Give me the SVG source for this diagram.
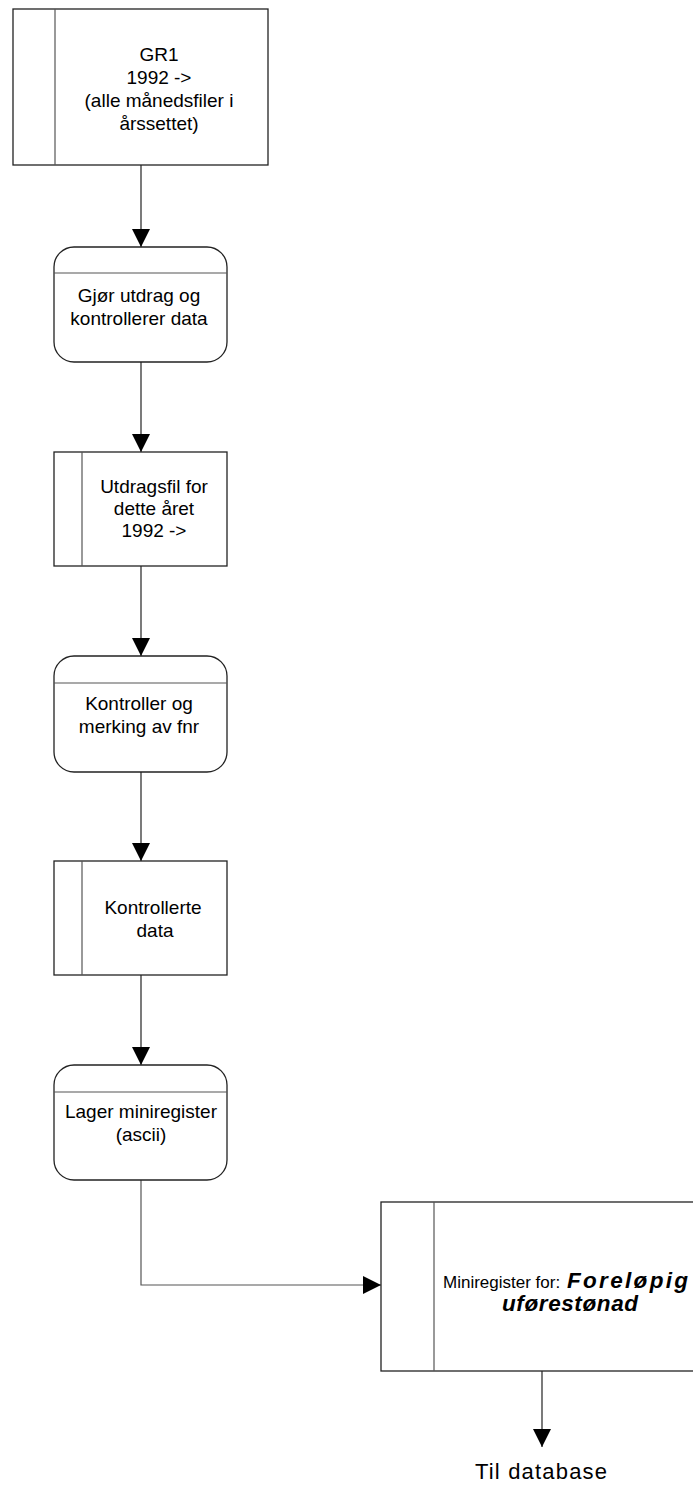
<svg xmlns="http://www.w3.org/2000/svg" width="693" height="1485" viewBox="0 0 693 1485">
<defs>
<marker id="ah" markerWidth="18" markerHeight="18" refX="18" refY="9" orient="auto" markerUnits="userSpaceOnUse">
<path d="M0,0 L18,9 L0,18 Z" fill="#000"/>
</marker>
<style>
.box{fill:#fff;stroke:#222;stroke-width:1.3}
.div{stroke:#555;stroke-width:1.2;fill:none}
.t{font-family:"Liberation Sans",Arial,sans-serif;font-size:19px;fill:#000;text-anchor:middle}
.c{stroke:#222;stroke-width:1.2;fill:none}
.g{stroke:#555}
.bi{font-family:"Liberation Sans",Arial,sans-serif;font-weight:bold;font-style:italic;font-size:22.5px;fill:#000}
</style>
</defs>
<rect width="693" height="1485" fill="#fff"/>
<g id="connectors">
<line class="c" x1="141" y1="165" x2="141" y2="247" marker-end="url(#ah)"/>
<line class="c" x1="141" y1="362" x2="141" y2="452" marker-end="url(#ah)"/>
<line class="c" x1="141" y1="566" x2="141" y2="656" marker-end="url(#ah)"/>
<line class="c" x1="141" y1="772" x2="141" y2="861" marker-end="url(#ah)"/>
<line class="c" x1="141" y1="975" x2="141" y2="1065" marker-end="url(#ah)"/>
<polyline class="c g" points="141,1180 141,1285 381,1285" marker-end="url(#ah)"/>
<line class="c" x1="542" y1="1371" x2="542" y2="1447" marker-end="url(#ah)"/>
</g>
<g id="gr1">
<rect class="box" x="13" y="9" width="255" height="156"/>
<line class="div" x1="55" y1="9" x2="55" y2="165"/>
<text class="t" x="159" y="61">GR1</text>
<text class="t" x="159" y="84">1992 -&gt;</text>
<text class="t" x="159" y="107">(alle månedsfiler i</text>
<text class="t" x="159" y="130">årssettet)</text>
</g>
<g id="utdrag">
<rect class="box" x="54" y="247" width="173" height="115" rx="20" ry="20"/>
<line class="div" x1="54" y1="273" x2="227" y2="273"/>
<text class="t" x="139" y="302">Gjør utdrag og</text>
<text class="t" x="139" y="325">kontrollerer data</text>
</g>
<g id="utdragsfil">
<rect class="box" x="54" y="452" width="173" height="114"/>
<line class="div" x1="82" y1="452" x2="82" y2="566"/>
<text class="t" x="154" y="493">Utdragsfil for</text>
<text class="t" x="154" y="515">dette året</text>
<text class="t" x="154" y="537">1992 -&gt;</text>
</g>
<g id="kontroller">
<rect class="box" x="54" y="656" width="173" height="116" rx="20" ry="20"/>
<line class="div" x1="54" y1="683" x2="227" y2="683"/>
<text class="t" x="139" y="710">Kontroller og</text>
<text class="t" x="139" y="733">merking av fnr</text>
</g>
<g id="kontrollerte">
<rect class="box" x="54" y="861" width="173" height="114"/>
<line class="div" x1="82" y1="861" x2="82" y2="975"/>
<text class="t" x="153" y="914">Kontrollerte</text>
<text class="t" x="155" y="937">data</text>
</g>
<g id="lager">
<rect class="box" x="54" y="1065" width="173" height="115" rx="20" ry="20"/>
<line class="div" x1="54" y1="1092" x2="227" y2="1092"/>
<text class="t" x="141" y="1118">Lager miniregister</text>
<text class="t" x="141" y="1141">(ascii)</text>
</g>
<g id="miniregister">
<rect class="box" x="381" y="1202" width="330" height="169"/>
<line class="div" x1="434" y1="1202" x2="434" y2="1371"/>
<text class="t" x="443" y="1288" style="font-size:17px;text-anchor:start">Miniregister for:</text>
<text class="bi" x="567" y="1288" textLength="121" lengthAdjust="spacing">Foreløpig</text>
<text class="bi" x="502" y="1311" textLength="136" lengthAdjust="spacing">uførestønad</text>
</g>
<g id="til-database">
<text class="t" x="541" y="1479" style="font-size:22px" textLength="132" lengthAdjust="spacing">Til database</text>
</g>
</svg>
